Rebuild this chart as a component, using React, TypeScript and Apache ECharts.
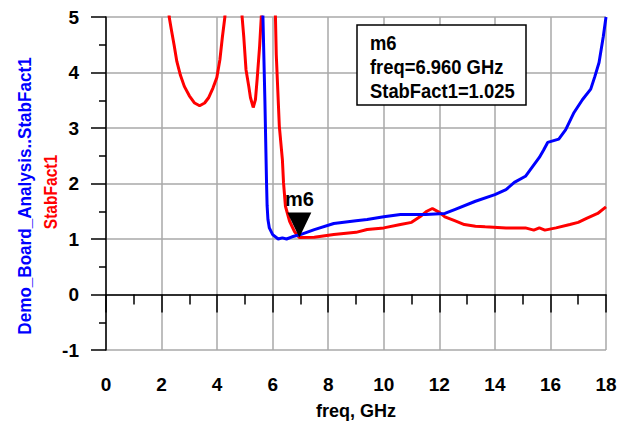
import React, { useEffect, useRef } from "react";
import * as echarts from "echarts";

const FONT = "'Liberation Sans', Arial, sans-serif";

// Blue: Demo_Board_Analysis..StabFact1
const blueFreq = [5.6, 5.65, 5.72, 5.78, 5.8, 5.83, 5.88, 6.0, 6.2, 6.35, 6.5, 6.7, 7.0, 7.5, 8.2, 9.0, 9.4, 10.0, 10.6, 11.5, 12.2, 12.55, 13.3, 14.0, 14.4, 14.7, 15.1, 15.35, 15.6, 15.75, 15.9, 16.3, 16.55, 16.85, 17.15, 17.45, 17.6, 17.75, 17.9, 18.0];
const blueVal = [5.6, 5.0, 3.5, 2.0, 1.6, 1.35, 1.2, 1.08, 1.0, 1.02, 1.0, 1.04, 1.08, 1.17, 1.28, 1.33, 1.35, 1.4, 1.44, 1.44, 1.46, 1.53, 1.68, 1.8, 1.89, 2.02, 2.13, 2.3, 2.47, 2.6, 2.74, 2.8, 2.97, 3.28, 3.51, 3.7, 3.93, 4.18, 4.64, 5.0];

// Red: StabFact1
const redFreq = [2.2, 2.275, 2.35, 2.45, 2.55, 2.68, 2.82, 3.0, 3.19, 3.37, 3.55, 3.7, 3.85, 3.99, 4.1, 4.19, 4.28, 4.35, 4.85, 4.9, 4.96, 5.04, 5.14, 5.2, 5.3, 5.38, 5.44, 5.53, 5.59, 5.65, 6.05, 6.1, 6.13, 6.24, 6.35, 6.39, 6.46, 6.61, 6.79, 6.96, 7.5, 8.2, 9.0, 9.4, 10.0, 10.6, 11.0, 11.3, 11.55, 11.75, 12.0, 12.2, 12.55, 12.9, 13.3, 13.65, 14.4, 15.1, 15.4, 15.6, 15.8, 16.2, 16.7, 17.0, 17.3, 17.7, 18.0];
const redVal = [5.6, 5.0, 4.78, 4.5, 4.2, 3.95, 3.75, 3.58, 3.45, 3.4, 3.45, 3.55, 3.72, 3.91, 4.23, 4.64, 5.0, 5.6, 5.6, 5.0, 4.64, 4.05, 3.75, 3.55, 3.37, 3.51, 3.87, 4.47, 5.0, 5.6, 5.6, 5.0, 4.32, 3.03, 2.43, 2.02, 1.59, 1.32, 1.13, 1.025, 1.03, 1.08, 1.12, 1.17, 1.2, 1.26, 1.3, 1.4, 1.5, 1.55, 1.48, 1.4, 1.33, 1.26, 1.23, 1.22, 1.2, 1.2, 1.16, 1.2, 1.16, 1.2, 1.26, 1.3, 1.37, 1.46, 1.58];

const xTicks = { min: 0, max: 18, interval: 2 };
const yTicks = { min: -1, max: 5, interval: 1 };

const markerFreq = 6.96;
const markerVal = 1.025;
const markerName = "m6";
const boxLines = ["m6", "freq=6.960 GHz", "StabFact1=1.025"];

export default function App() {
  const ref = useRef<HTMLDivElement>(null);
  useEffect(() => {
    if (!ref.current) return;
    const chart = echarts.init(ref.current, null, { renderer: "svg" });
    const gridColor = "#a8a8a8";
    const axisCommon = {
      axisLine: { show: true, lineStyle: { color: "#000", width: 1.5 } },
      splitLine: { show: true, lineStyle: { color: gridColor, width: 1.5 } },
      minorTick: { show: true, splitNumber: 2, lineStyle: { color: "#000", width: 1.5 } },
      axisLabel: { color: "#000", fontFamily: FONT, fontWeight: "bold", fontSize: 19 },
    };
    chart.setOption({
      animation: false,
      backgroundColor: "#fff",
      grid: { left: 106, right: 24, top: 17, bottom: 76, containLabel: false },
      xAxis: {
        type: "value",
        ...xTicks,
        ...axisCommon,
        axisTick: { show: true, length: 18, lineStyle: { color: "#000", width: 1.5 } },
        minorTick: { ...axisCommon.minorTick, length: 10 },
        axisLabel: { ...axisCommon.axisLabel, margin: 25 },
        name: "freq, GHz",
        nameLocation: "middle",
        nameGap: 52,
        nameTextStyle: { color: "#000", fontFamily: FONT, fontWeight: "bold", fontSize: 18 },
      },
      yAxis: {
        type: "value",
        ...yTicks,
        ...axisCommon,
        axisTick: { show: true, length: 15, lineStyle: { color: "#000", width: 1.5 } },
        minorTick: { ...axisCommon.minorTick, length: 7 },
        axisLabel: { ...axisCommon.axisLabel, margin: 27 },
      },
      series: [
        {
          type: "line",
          name: "Demo_Board_Analysis..StabFact1",
          data: blueFreq.map((f, i) => [f, blueVal[i]]),
          showSymbol: false,
          clip: true,
          lineStyle: { color: "#0000ff", width: 3 },
          itemStyle: { color: "#0000ff" },
          z: 3,
        },
        {
          type: "line",
          name: "StabFact1",
          data: redFreq.map((f, i) => [f, redVal[i]]),
          showSymbol: false,
          clip: true,
          lineStyle: { color: "#ff0000", width: 3 },
          itemStyle: { color: "#ff0000" },
          z: 2,
          markPoint: {
            symbol: "path://M0,0 L24,0 L12,25 Z",
            symbolSize: [24, 25],
            symbolOffset: [0, -12.5],
            symbolKeepAspect: false,
            itemStyle: { color: "#000" },
            label: {
              show: true,
              position: "top",
              distance: 4,
              formatter: markerName,
              color: "#000",
              fontFamily: FONT,
              fontWeight: "bold",
              fontSize: 20,
            },
            data: [{ coord: [markerFreq, markerVal] }],
            z: 10,
          },
        },
      ],
      graphic: [
        {
          type: "text",
          x: 25,
          y: 196,
          rotation: Math.PI / 2,
          scaleX: 0.9,
          style: {
            text: "Demo_Board_Analysis..StabFact1",
            fill: "#0000ff",
            font: `bold 19px ${FONT}`,
            align: "center",
            verticalAlign: "middle",
          },
        },
        {
          type: "text",
          x: 50,
          y: 192,
          rotation: Math.PI / 2,
          scaleX: 0.82,
          style: {
            text: "StabFact1",
            fill: "#ff0000",
            font: `bold 19px ${FONT}`,
            align: "center",
            verticalAlign: "middle",
          },
        },
        {
          type: "rect",
          shape: { x: 357, y: 25, width: 169, height: 80 },
          style: { fill: "#fff", stroke: "#000", lineWidth: 1.5 },
          z: 20,
        },
        ...boxLines.map((t, i) => ({
          type: "text",
          x: 370,
          y: 43 + i * 24,
          scaleX: 0.92,
          z: 21,
          style: {
            text: t,
            fill: "#000",
            font: `bold 20px ${FONT}`,
            align: "left",
            verticalAlign: "middle",
          },
        })),
      ],
    });
    return () => chart.dispose();
  }, []);
  return <div ref={ref} style={{ width: 630, height: 426, position: "absolute", left: 0, top: 0 }} />;
}
